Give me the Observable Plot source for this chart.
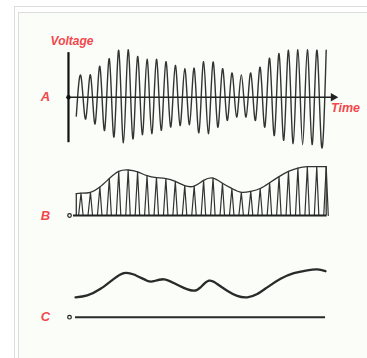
<!DOCTYPE html>
<html><head><meta charset="utf-8">
<script src="https://cdn.jsdelivr.net/npm/d3@7"></script>
<script src="https://cdn.jsdelivr.net/npm/@observablehq/plot@0.6"></script>
<style>
html,body{margin:0;padding:0;background:#fff;width:367px;height:358px;overflow:hidden;font-family:Arial,"Liberation Sans",sans-serif}
#outer{position:absolute;left:14px;top:6px;width:420px;height:420px;border:1px solid #dcdcdc;box-sizing:border-box}
#inner{position:absolute;left:18px;top:12px;width:420px;height:420px;border:1px solid #dcdcdc;background:#fafdf8;box-sizing:border-box}
#chart{position:absolute;left:0;top:0;width:367px;height:358px}
#chart svg{position:absolute;left:0;top:0;background:transparent;overflow:visible}
</style></head>
<body>
<div id="outer"></div><div id="inner"></div>
<div id="chart"></div>
<script>
// ---- Data (cycles of the carrier, voltage normalised to max ≈ 1) ----
// Panel A: amplitude-modulated carrier, positive peaks and negative troughs
const peakA = [0.44,0.47,0.65,0.81,0.99,1.00,0.86,0.80,0.80,0.75,0.67,0.60,0.61,0.75,0.74,0.60,0.51,0.47,0.51,0.63,0.82,0.92,0.99,1.00,1.00,0.99,0.99];
const troughA = [0.40,0.46,0.56,0.70,0.84,0.96,0.88,0.79,0.77,0.70,0.63,0.60,0.58,0.75,0.77,0.63,0.49,0.42,0.42,0.49,0.63,0.81,0.91,0.98,1.00,1.00,1.02];
// Panel B: rectified pulses (height of each half-cycle)
const pulseB = [0.47,0.49,0.60,0.78,0.93,0.96,0.92,0.84,0.80,0.78,0.72,0.63,0.62,0.74,0.79,0.68,0.57,0.49,0.51,0.57,0.69,0.82,0.93,1.00,1.03,1.03,1.03];
// Panel C: recovered (demodulated) signal
const timeC = [-0.58,0.66,2.07,3.48,4.54,5.6,7.0,7.72,8.78,9.84,10.9,11.96,12.67,13.56,14.44,15.5,16.56,17.63,18.69,19.75,21.16,22.57,23.99,25.05,25.93];
const valueC = [0.42,0.46,0.60,0.81,0.93,0.90,0.77,0.76,0.80,0.72,0.62,0.56,0.63,0.77,0.70,0.56,0.45,0.42,0.49,0.63,0.81,0.93,0.99,1.01,0.97];
// Labels
const panelLabels = ["A","B","C"];
const axisLabels = ["Voltage","Time"];

const W = 367, H = 358;
const RED = "#f2474d", INK = "#333";
const xScale = {domain:[-0.5, 26], range:[75.8, 325.7], axis:null};
const base = {width:W, height:H, margin:0, x:xScale, style:{background:"transparent", overflow:"visible"}};
const lab = {fill:RED, fontSize:12.5, fontStyle:"italic", fontWeight:"bold", fontFamily:"Arial, Liberation Sans, sans-serif"};

// Panel A points: trough then peak for each cycle
const waveA = [];
peakA.forEach((p,k)=>{ waveA.push({t:k-0.5, v:-troughA[k]}); waveA.push({t:k, v:p}); });

const plotA = Plot.plot({...base,
  y:{domain:[-1,1], range:[144.1, 49.3], axis:null},
  marks:[
    Plot.line(waveA, {x:"t", y:"v", curve:"natural", stroke:INK, strokeWidth:1.4}),
    Plot.ruleY([0], {x1:-1.33, x2:26.6, stroke:"#222", strokeWidth:1.5}),
    Plot.dot([[26.75,0]], {x:d=>d[0], y:d=>d[1], symbol:"triangle", rotate:90, r:3.2, fill:"#222"}),
    Plot.ruleX([-1.33], {y1:-0.96, y2:0.94, stroke:"#111", strokeWidth:2.2}),
    Plot.dot([[-1.33,0]], {x:d=>d[0], y:d=>d[1], r:2.2, fill:"#111"}),
    Plot.text([axisLabels[0]], {x:-0.95, y:1.18, ...lab, fontSize:12}),
    Plot.text([axisLabels[1]], {x:28.05, y:-0.22, ...lab, fontSize:12.5}),
    Plot.text([panelLabels[0]], {x:-3.76, y:0, ...lab, fontSize:13})
  ]});

// Panel B
const spikes = [];
pulseB.forEach((h,k)=>{ spikes.push({t:k-0.26, v:0}); spikes.push({t:k, v:h}); spikes.push({t:k+0.22, v:0}); });
const env = [{t:-0.5, v:0.46}, ...pulseB.map((h,k)=>({t:k, v:h}))];
const plotB = Plot.plot({...base,
  y:{domain:[0,1], range:[215, 167.6], axis:null},
  marks:[
    Plot.line(spikes, {x:"t", y:"v", stroke:INK, strokeWidth:1.2}),
    Plot.line(env, {x:"t", y:"v", curve:"natural", stroke:INK, strokeWidth:1.3}),
    Plot.ruleX([-0.5], {y1:0, y2:0.46, stroke:INK, strokeWidth:1.3}),
    Plot.ruleX([26], {y1:0, y2:1.03, stroke:INK, strokeWidth:1.3}),
    Plot.ruleY([0], {x1:-0.8, x2:26.1, stroke:"#222", strokeWidth:2}),
    Plot.dot([[-1.22,0]], {x:d=>d[0], y:d=>d[1], r:1.8, stroke:"#222", strokeWidth:1.2, fill:"none"}),
    Plot.text([panelLabels[1]], {x:-3.76, y:0, ...lab, fontSize:13})
  ]});

// Panel C
const plotC = Plot.plot({...base,
  y:{domain:[0,1], range:[316.7, 269.3], axis:null},
  marks:[
    Plot.line(timeC.map((t,i)=>({t, v:valueC[i]})), {x:"t", y:"v", curve:"natural", stroke:"#2a2a2a", strokeWidth:2.3}),
    Plot.ruleY([0], {x1:-0.58, x2:25.93, stroke:"#2a2a2a", strokeWidth:2}),
    Plot.dot([[-1.22,0]], {x:d=>d[0], y:d=>d[1], r:1.8, stroke:"#222", strokeWidth:1.2, fill:"none"}),
    Plot.text([panelLabels[2]], {x:-3.76, y:0, ...lab, fontSize:13})
  ]});

const c = document.getElementById("chart");
c.append(plotA, plotB, plotC);
</script>
</body></html>
